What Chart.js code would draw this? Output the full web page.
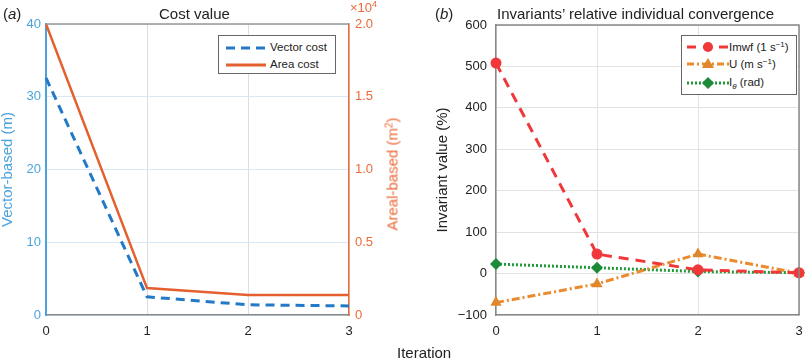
<!DOCTYPE html>
<html>
<head>
<meta charset="utf-8">
<script src="https://cdn.jsdelivr.net/npm/chart.js@4/dist/chart.umd.min.js"></script>
<style>
  html, body { margin:0; padding:0; background:#fff; }
  body { width:806px; height:360px; position:relative; overflow:hidden; font-family:"Liberation Sans", Arial, sans-serif; color:#222; }
  .cv { position:absolute; top:0; width:403px; height:360px; }
  .cv canvas { display:block; }
  .txt { position:absolute; white-space:nowrap; line-height:1; }
  .legend { position:absolute; background:#fff; border:1.5px solid #666; box-sizing:border-box; font-size:11.5px; }
  .row { position:absolute; left:0; height:16px; }
  .row svg { position:absolute; left:4px; top:0; }
  .row span { position:absolute; top:2px; white-space:nowrap; line-height:1; }
</style>
</head>
<body>
<div class="cv" style="left:0;"><canvas id="c1" width="403" height="360"></canvas></div>
<div class="cv" style="left:403px;"><canvas id="c2" width="403" height="360"></canvas></div>

<div class="txt" style="left:3px;top:6px;font-size:15px;">(<i>a</i>)</div>
<div class="txt" style="left:159px;top:6px;font-size:15px;">Cost value</div>
<div class="txt" style="left:350px;top:0px;font-size:13px;color:#EB6A38;">×10<sup style="font-size:9px;vertical-align:5px;">4</sup></div>
<div class="txt" style="left:392px;top:174px;font-size:15px;color:#EB6A38;transform:translate(-50%,-50%) rotate(-90deg);transform-origin:center;">Areal-based (m<sup style="font-size:10px;vertical-align:5px;">2</sup>)</div>
<div class="txt" style="left:435px;top:6px;font-size:15px;">(<i>b</i>)</div>
<div class="txt" style="left:497px;top:6px;font-size:15px;">Invariants’ relative individual convergence</div>
<div class="txt" style="left:397px;top:345px;font-size:15px;">Iteration</div>

<div class="legend" style="left:218px;top:35px;width:118px;height:39px;">
  <div class="row" style="top:4px;width:116px;">
    <svg width="44" height="16"><line x1="3" y1="8" x2="43" y2="8" stroke="#2379C6" stroke-width="3" stroke-dasharray="9,6"/></svg>
    <span style="left:51px;">Vector cost</span>
  </div>
  <div class="row" style="top:21px;width:116px;">
    <svg width="44" height="16"><line x1="3" y1="8" x2="43" y2="8" stroke="#E4602F" stroke-width="3"/></svg>
    <span style="left:51px;">Area cost</span>
  </div>
</div>

<div class="legend" style="left:681px;top:35px;width:116px;height:60px;">
  <div class="row" style="top:3px;width:114px;">
    <svg width="44" height="16"><line x1="1" y1="8" x2="43" y2="8" stroke="#F0373A" stroke-width="3" stroke-dasharray="9,7"/><circle cx="22" cy="8" r="5" fill="#F0373A"/></svg>
    <span style="left:47px;">Imwf (1 s<sup style="font-size:8px;vertical-align:4px;">−1</sup>)</span>
  </div>
  <div class="row" style="top:20px;width:114px;">
    <svg width="44" height="16"><line x1="1" y1="8" x2="43" y2="8" stroke="#EC8A2E" stroke-width="3" stroke-dasharray="7,3,2,3"/><polygon points="22,2 28,12 16,12" fill="#E0862C"/></svg>
    <span style="left:47px;">U (m s<sup style="font-size:8px;vertical-align:4px;">−1</sup>)</span>
  </div>
  <div class="row" style="top:39px;width:114px;">
    <svg width="44" height="16"><line x1="1" y1="8" x2="43" y2="8" stroke="#1F9A3A" stroke-width="3" stroke-dasharray="2,2"/><polygon points="22,2 28,8 22,14 16,8" fill="#1C8A38"/></svg>
    <span style="left:47px;">I<sub style="font-size:8px;vertical-align:-3px;"><i>θ</i></sub> (rad)</span>
  </div>
</div>

<script>
// ---- data ----
const iterations = ['0', '1', '2', '3'];
const vectorCost = [32.6, 2.5, 1.4, 1.25];          // m
const areaCost = [20000, 1850, 1380, 1380];          // m^2
const imwf = [508, 47, 9, 2];                        // %
const uVal = [-70, -25, 47, 1];                      // %
const itheta = [23, 14, 5, 2];                       // %
const leftTicks = [0, 10, 20, 30, 40];
const arealTicks = [0, 5000, 10000, 15000, 20000];
const invTicks = [-100, 0, 100, 200, 300, 400, 500, 600];

Chart.defaults.font.family = '"Liberation Sans", Arial, sans-serif';
Chart.defaults.animation = false;

const topLine = (color, width) => ({
  id: 'topline',
  afterDraw(chart) {
    const a = chart.chartArea, c = chart.ctx;
    c.save();
    c.strokeStyle = color; c.lineWidth = width;
    c.beginPath(); c.moveTo(a.left, a.top); c.lineTo(a.right, a.top); c.stroke();
    c.restore();
  }
});

new Chart(document.getElementById('c1'), {
  type: 'line',
  data: {
    labels: iterations,
    datasets: [
      { label: 'Vector cost', data: vectorCost, yAxisID: 'y', borderColor: '#2379C6', borderWidth: 3, borderDash: [9, 6], pointRadius: 0, tension: 0, fill: false },
      { label: 'Area cost', data: areaCost, yAxisID: 'y2', borderColor: '#E4602F', borderWidth: 2.5, pointRadius: 0, tension: 0, fill: false }
    ]
  },
  options: {
    responsive: false, maintainAspectRatio: false,
    layout: { autoPadding: false, padding: { top: 24, left: 0, right: 0, bottom: 0 } },
    plugins: { legend: { display: false }, title: { display: false }, tooltip: { enabled: false } },
    scales: {
      x: {
        offset: false,
        grid: { color: '#dedede', drawTicks: false },
        border: { color: '#888', width: 1.5 },
        ticks: { color: '#222', font: { size: 13 }, padding: 9, maxRotation: 0 },
        afterFit: s => { s.height = 45; s.paddingLeft = 0; s.paddingRight = 0; }
      },
      y: {
        position: 'left', min: 0, max: 40,
        afterBuildTicks: s => { s.ticks = leftTicks.map(v => ({ value: v })); },
        grid: { color: '#d6e9f5', drawTicks: false },
        border: { color: '#4BA3DD', width: 2 },
        ticks: { color: '#4BA3DD', font: { size: 13 }, padding: 5 },
        title: { display: true, text: 'Vector-based (m)', color: '#4BA3DD', font: { size: 15, lineHeight: 1 }, padding: { top: 0, bottom: 0 } },
        afterFit: s => { s.width = 46; }
      },
      y2: {
        position: 'right', min: 0, max: 20000,
        afterBuildTicks: s => { s.ticks = arealTicks.map(v => ({ value: v })); },
        grid: { display: false, drawTicks: false },
        border: { color: '#EB6A38', width: 1.5 },
        ticks: { color: '#EB6A38', font: { size: 13 }, padding: 6, callback: v => v === 0 ? '0' : (v / 1e4).toFixed(1) },
        afterFit: s => { s.width = 54; }
      }
    }
  },
  plugins: [topLine('#999', 1.5)]
});

new Chart(document.getElementById('c2'), {
  type: 'line',
  data: {
    labels: iterations,
    datasets: [
      { label: 'Imwf', data: imwf, clip: false, borderColor: '#F0373A', backgroundColor: '#F0373A', borderWidth: 3, borderDash: [10, 7], pointStyle: 'circle', pointRadius: 5.5, pointBorderWidth: 0, tension: 0, fill: false },
      { label: 'U', data: uVal, clip: false, borderColor: '#EC8A2E', backgroundColor: '#E0862C', borderWidth: 3, borderDash: [8, 3, 2, 3], pointStyle: 'triangle', pointRadius: 6.5, pointBorderWidth: 0, tension: 0, fill: false },
      { label: 'Itheta', data: itheta, clip: false, borderColor: '#1F9A3A', backgroundColor: '#1C8A38', borderWidth: 3, borderDash: [2, 2], pointStyle: 'rectRot', pointRadius: 6, pointBorderWidth: 0, tension: 0, fill: false }
    ]
  },
  options: {
    responsive: false, maintainAspectRatio: false,
    layout: { autoPadding: false, padding: { top: 25, left: 0, right: 7, bottom: 0 } },
    plugins: { legend: { display: false }, title: { display: false }, tooltip: { enabled: false } },
    scales: {
      x: {
        offset: false,
        grid: { color: '#e2e2e2', drawTicks: false },
        border: { color: '#888', width: 1.5 },
        ticks: { color: '#222', font: { size: 13 }, padding: 9, maxRotation: 0 },
        afterFit: s => { s.height = 45; s.paddingLeft = 0; s.paddingRight = 0; }
      },
      y: {
        position: 'left', min: -100, max: 600,
        afterBuildTicks: s => { s.ticks = invTicks.map(v => ({ value: v })); },
        grid: { color: '#e2e2e2', drawTicks: false },
        border: { color: '#888', width: 1.5 },
        ticks: { color: '#222', font: { size: 13 }, padding: 9, callback: v => v < 0 ? '−' + Math.abs(v) : String(v) },
        title: { display: true, text: 'Invariant value (%)', color: '#222', font: { size: 15, lineHeight: 1 }, padding: { top: 32, bottom: 0 } },
        afterFit: s => { s.width = 93; }
      }
    }
  },
  plugins: [{
    id: 'box',
    afterDraw(chart) {
      const a = chart.chartArea, c = chart.ctx;
      c.save(); c.strokeStyle = '#888'; c.lineWidth = 1.5;
      c.beginPath();
      c.moveTo(a.left, a.top); c.lineTo(a.right, a.top); c.lineTo(a.right, a.bottom);
      c.stroke(); c.restore();
    }
  }]
});
</script>
</body>
</html>
